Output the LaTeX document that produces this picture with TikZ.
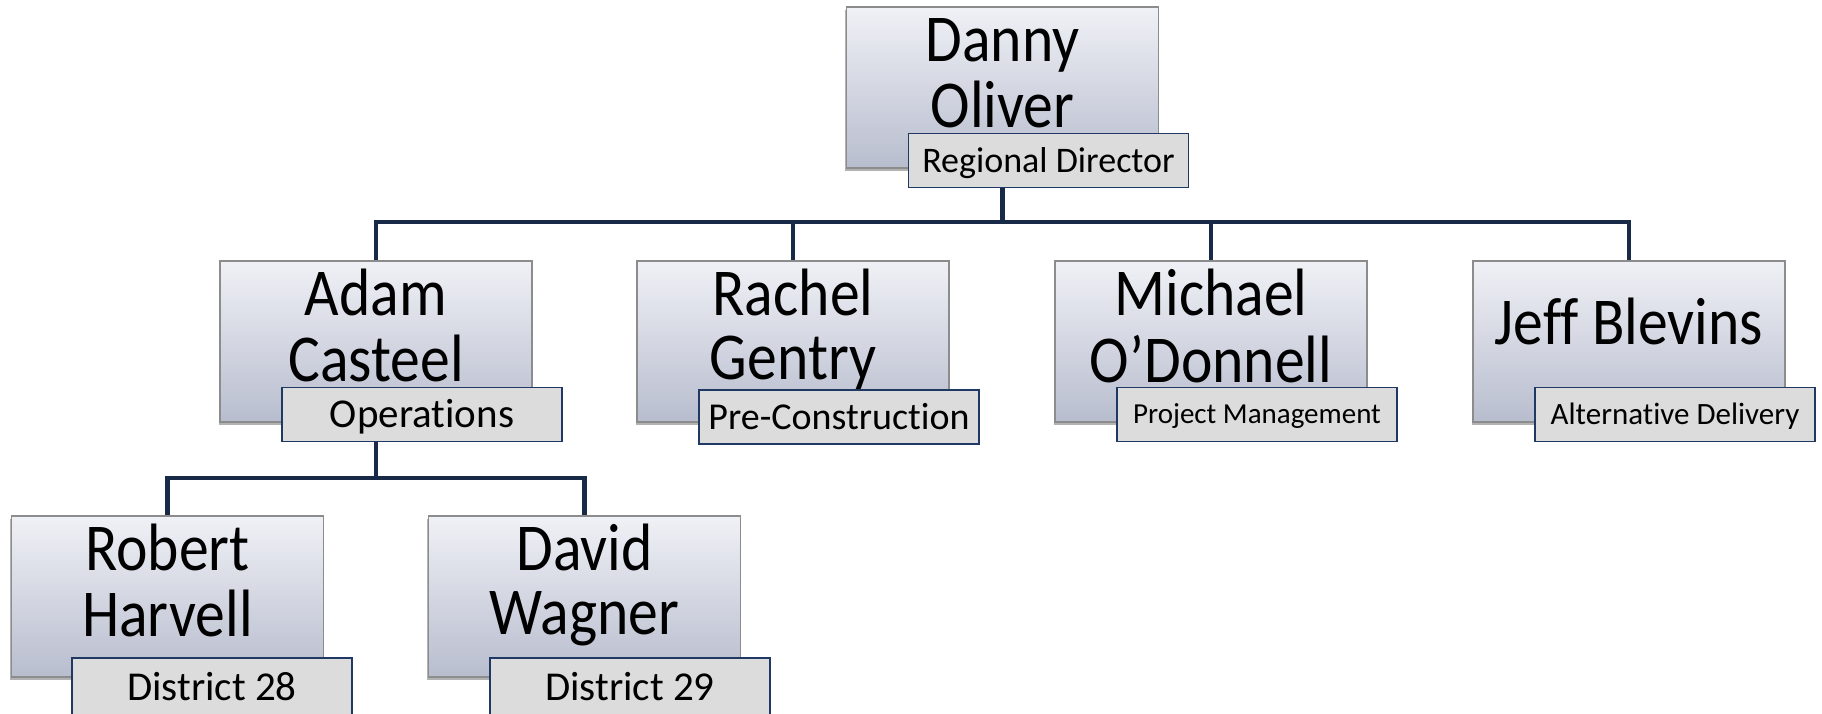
\documentclass[tikz,border=0pt]{standalone}
\usepackage{fontspec}
\setmainfont{Carlito}[Ligatures=NoCommon]
\newfontfamily\namefont{Carlito}[FakeStretch=0.89, Ligatures=NoCommon]
\usetikzlibrary{shadows,backgrounds}
\definecolor{boxtop}{RGB}{240,241,246}
\definecolor{boxbot}{RGB}{184,189,206}
\definecolor{boxline}{RGB}{140,140,140}
\definecolor{labfill}{RGB}{220,220,220}
\definecolor{labline}{RGB}{31,56,100}
\definecolor{connc}{RGB}{24,42,72}
\tikzset{
  namebox/.style={draw=boxline, line width=1.2pt, top color=boxtop, bottom color=boxbot,
    minimum width=312pt, minimum height=161pt, inner sep=0pt,
    drop shadow={shadow xshift=-1.5pt, shadow yshift=-3pt, fill=black, opacity=0.3}},
  nametext/.style={anchor=base, inner sep=0pt, font=\namefont\fontsize{67}{64}\selectfont},
  labelbox/.style={draw=labline, line width=1.8pt, fill=labfill, minimum width=280pt,
    minimum height=54pt, inner sep=0pt, text depth=0pt},
  connline/.style={draw=connc, line width=4.5pt}
}
\begin{document}
\begin{tikzpicture}[x=1pt,y=1pt]
\useasboundingbox (0,0) rectangle (1822,714);
\clip (0,0) rectangle (1822,714);
% name boxes
\node[namebox] (danny) at (1002.5,626.5) {};
\node[namebox] (adam) at (376,372.5) {};
\node[namebox] (rachel) at (793,372.5) {};
\node[namebox] (michael) at (1211,372.5) {};
\node[namebox] (jeff) at (1629,372.5) {};
\node[namebox] (robert) at (167.5,117.5) {};
\node[namebox] (david) at (584.5,117.5) {};
% names
\node[nametext] (dannyt) at (1002.5,652) {\begin{tabular}[t]{@{}c@{}}Danny\\Oliver\end{tabular}};
\node[nametext] (adamt) at (376,398) {\begin{tabular}[t]{@{}c@{}}Adam\\Casteel\end{tabular}};
\node[nametext] (rachelt) at (793,398) {\begin{tabular}[t]{@{}c@{}}Rachel\\Gentry\end{tabular}};
\node[nametext] (michaelt) at (1211,398) {\begin{tabular}[t]{@{}c@{}}Michael\\O’Donnell\end{tabular}};
\node[nametext] (jefft) at (1629,369) {Jeff Blevins};
\node[nametext] (robertt) at (167.5,143) {\begin{tabular}[t]{@{}c@{}}Robert\\Harvell\end{tabular}};
\node[nametext] (davidt) at (584.5,143) {\begin{tabular}[t]{@{}c@{}}David\\Wagner\end{tabular}};
% labels
\node[labelbox, font=\fontsize{36}{40}\selectfont, text height=23.2pt] (dannyl) at (1048.5,553.5) {Regional Director};
\node[labelbox, font=\fontsize{41}{45}\selectfont, text height=26.4pt] (adaml) at (422,299.5) {Operations};
\node[labelbox, font=\fontsize{38}{42}\selectfont, text height=24.5pt] (rachell) at (839,297) {Pre-Construct\kern0pt ion};
\node[labelbox, font=\fontsize{29}{33}\selectfont, text height=18.7pt] (michaell) at (1257,299.5) {Project Management};
\node[labelbox, font=\fontsize{31}{35}\selectfont, text height=20pt] (jeffl) at (1675,299.5) {Alternat\kern0pt ive Delivery};
\node[labelbox, minimum height=58pt, font=\fontsize{41}{45}\selectfont, text height=26.4pt] (robertl) at (212,27) {District 28};
\node[labelbox, minimum height=58pt, font=\fontsize{41}{45}\selectfont, text height=26.4pt] (davidl) at (630,27) {District 29};
% connectors
\coordinate (bus1) at (1002.5,492);
\coordinate (bus2) at (376,236);
\begin{scope}[on background layer]
\draw[connline] (danny.south) -- (bus1);
\draw[connline] (adam.north) |- (bus1);
\draw[connline] (rachel.north) |- (bus1);
\draw[connline] (michael.north) |- (bus1);
\draw[connline] (jeff.north) |- (bus1);
\draw[connline] (adam.south) -- (bus2);
\draw[connline] (robert.north) |- (bus2);
\draw[connline] (david.north) |- (bus2);
\end{scope}
\end{tikzpicture}
\end{document}
